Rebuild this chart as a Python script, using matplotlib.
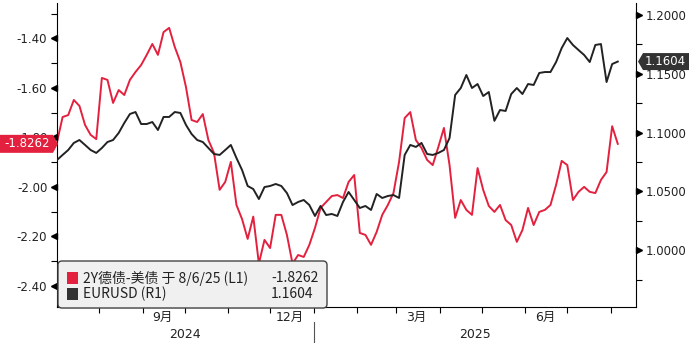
import numpy as np
import pandas as pd
import matplotlib
matplotlib.use("Agg")
import matplotlib.pyplot as plt
from matplotlib.patches import Polygon, Rectangle, FancyBboxPatch
from matplotlib.transforms import blended_transform_factory, ScaledTranslation, IdentityTransform

plt.rcParams['font.family'] = ['DejaVu Sans', 'Noto Sans CJK SC']

# data, sampled every 4 days from the picture
dates = pd.date_range('2024-07-02', periods=101, freq='4D')

spread = [
    -1.819, -1.718, -1.710, -1.649, -1.673, -1.750, -1.790, -1.807, -1.560, -1.568,
    -1.661, -1.609, -1.629, -1.568, -1.536, -1.508, -1.467, -1.423, -1.467, -1.375,
    -1.358, -1.435, -1.496, -1.597, -1.730, -1.738, -1.706, -1.811, -1.863, -2.012,
    -1.980, -1.899, -2.073, -2.130, -2.210, -2.120, -2.310, -2.214, -2.247, -2.113,
    -2.113, -2.194, -2.310, -2.275, -2.283, -2.234, -2.166, -2.085, -2.061, -2.037,
    -2.033, -2.045, -1.980, -1.952, -2.186, -2.194, -2.234, -2.182, -2.113, -2.073,
    -2.025, -1.899, -1.722, -1.698, -1.811, -1.843, -1.891, -1.912, -1.839, -1.762,
    -1.912, -2.125, -2.053, -2.093, -2.113, -1.924, -2.012, -2.077, -2.101, -2.073,
    -2.134, -2.154, -2.222, -2.174, -2.085, -2.154, -2.101, -2.093, -2.073, -1.992,
    -1.895, -1.912, -2.053, -2.020, -2.000, -2.020, -2.025, -1.972, -1.940, -1.755,
    -1.8262]

eurusd = [
    1.0767, 1.0810, 1.0852, 1.0912, 1.0937, 1.0895, 1.0852, 1.0827, 1.0869, 1.0920,
    1.0937, 1.0997, 1.1082, 1.1158, 1.1175, 1.1073, 1.1073, 1.1090, 1.1022, 1.1133,
    1.1133, 1.1175, 1.1167, 1.1065, 1.0988, 1.0937, 1.0920, 1.0869, 1.0818, 1.0810,
    1.0852, 1.0895, 1.0784, 1.0682, 1.0546, 1.0520, 1.0435, 1.0537, 1.0546, 1.0563,
    1.0546, 1.0486, 1.0384, 1.0410, 1.0427, 1.0384, 1.0291, 1.0376, 1.0299, 1.0308,
    1.0291, 1.0410, 1.0495, 1.0427, 1.0359, 1.0376, 1.0342, 1.0478, 1.0444, 1.0461,
    1.0469, 1.0444, 1.0810, 1.0895, 1.0878, 1.0912, 1.0818, 1.0810, 1.0827, 1.0852,
    1.0954, 1.1320, 1.1379, 1.1490, 1.1379, 1.1413, 1.1311, 1.1345, 1.1100, 1.1192,
    1.1184, 1.1328, 1.1379, 1.1328, 1.1413, 1.1405, 1.1507, 1.1515, 1.1515, 1.1600,
    1.1719, 1.1804, 1.1745, 1.1702, 1.1660, 1.1600, 1.1745, 1.1753, 1.1430, 1.1583,
    1.1604]

left_ticks = [-2.40, -2.20, -2.00, -1.80, -1.60, -1.40]
left_minor = [-2.30, -2.10, -1.90, -1.70, -1.50, -1.30]
right_ticks = [1.00, 1.05, 1.10, 1.15, 1.20]
right_minor = [0.975, 1.025, 1.075, 1.125, 1.175]
month_pos = ['2024-09-15', '2024-12-15', '2025-03-15', '2025-06-15']
month_labels = ['9月', '12月', '3月', '6月']

spread_name = '2Y德债-美债 于 8/6/25 (L1)'
fx_name = 'EURUSD (R1)'

RED = '#e3213f'
DARK = '#222222'

W, H = 689, 343
fig = plt.figure(figsize=(W / 100, H / 100), dpi=100)
ax = fig.add_axes([57 / W, 1 - 307 / H, (636 - 57) / W, (307 - 3) / H])
ax2 = ax.twinx()

ax.plot(dates, spread, color=RED, lw=1.4)
ax2.plot(dates, eurusd, color=DARK, lw=1.4)

ax.set_xlim(dates[0], pd.Timestamp('2025-08-19'))
ax.set_ylim(-2.485, -1.2575)
ax2.set_ylim(0.9517, 1.2102)

for s in ['top', 'right']:
    ax.spines[s].set_visible(False)
for s in ['top', 'left', 'bottom']:
    ax2.spines[s].set_visible(False)

# left axis
ax.set_yticks(left_ticks)
ax.set_yticklabels(['%.2f' % v for v in left_ticks])
ax.set_yticks(left_minor, minor=True)
ax.tick_params(axis='y', which='major', length=0, pad=7, labelsize=8.5, labelcolor='#222222')
ax.tick_params(axis='y', which='minor', length=4, width=0.8)
trl = blended_transform_factory(ax.transAxes, ax.transData) + ScaledTranslation(-2.3 / 72, 0, fig.dpi_scale_trans)
ax.plot(np.zeros(len(left_ticks)), left_ticks, ls='none', marker='<', ms=4.5,
        color='black', transform=trl, clip_on=False)

# right axis
ax2.set_yticks(right_ticks)
ax2.set_yticklabels(['%.4f' % v for v in right_ticks])
ax2.set_yticks(right_minor, minor=True)
ax2.tick_params(axis='y', which='major', length=0, pad=7, labelsize=8.5, labelcolor='#222222')
ax2.tick_params(axis='y', which='minor', length=4, width=0.8)
trr = blended_transform_factory(ax2.transAxes, ax2.transData) + ScaledTranslation(2.3 / 72, 0, fig.dpi_scale_trans)
ax2.plot(np.ones(len(right_ticks)), right_ticks, ls='none', marker='>', ms=4.5,
         color='black', transform=trr, clip_on=False)

# x axis: month ticks, quarterly labels, years below
month_starts = pd.date_range('2024-08-01', '2025-08-01', freq='MS')
ax.set_xticks(month_starts, minor=True)
ax.set_xticks(pd.to_datetime(month_pos))
ax.set_xticklabels(month_labels)
ax.tick_params(axis='x', which='major', length=0, pad=3, labelsize=9, labelcolor='#222222')
ax.tick_params(axis='x', which='minor', length=4, width=0.8)

xl = ax.get_xlim()
jan = pd.Timestamp('2025-01-01')
xt = blended_transform_factory(ax.transData, ax.transAxes)
import matplotlib.dates as mdates
jn = mdates.date2num(jan)
ax.text((xl[0] + jn) / 2, -0.092, '2024', transform=xt, ha='center', va='center', fontsize=9, color='#222222')
ax.text((jn + xl[1]) / 2, -0.092, '2025', transform=xt, ha='center', va='center', fontsize=9, color='#222222')
ax.axvline(jan, ymin=-0.12, ymax=-0.05, color='#555555', lw=0.8, clip_on=False)

# legend box (pixel coordinates)
idt = IdentityTransform()
def fy(y):
    return H - y

leg = FancyBboxPatch((58, fy(308)), 269, 47, boxstyle='round,pad=0,rounding_size=4',
                     fc='#f0f0f0', ec='#444444', lw=1, transform=idt, zorder=5)
fig.add_artist(leg)
fig.add_artist(Rectangle((67, fy(284)), 11, 12, fc=RED, ec='none', transform=idt, zorder=6))
fig.add_artist(Rectangle((67, fy(300)), 11, 12, fc='#333333', ec='none', transform=idt, zorder=6))
lf = ['Noto Sans CJK SC', 'DejaVu Sans']
fig.text(83, fy(278), spread_name, transform=idt, ha='left', va='center', fontsize=10,
         family=lf, color='#222222', zorder=7)
fig.text(319, fy(278), '%.4f' % spread[-1], transform=idt, ha='right', va='center', fontsize=10,
         family=lf, color='#222222', zorder=7)
fig.text(83, fy(294), fx_name, transform=idt, ha='left', va='center', fontsize=10,
         family=lf, color='#222222', zorder=7)
fig.text(313, fy(294), '%.4f' % eurusd[-1], transform=idt, ha='right', va='center', fontsize=10,
         family=lf, color='#222222', zorder=7)

# last value tags
cl = ax.transData.transform((0, spread[-1]))[1]
fig.add_artist(Polygon([(0, cl - 9), (53, cl - 9), (58, cl), (53, cl + 9), (0, cl + 9)],
                       closed=True, fc=RED, ec='none', transform=idt, zorder=5))
fig.text(27, cl, '%.4f' % spread[-1], transform=idt, ha='center', va='center',
         fontsize=8.5, color='white', zorder=7)

cr = ax2.transData.transform((0, eurusd[-1]))[1]
fig.add_artist(Polygon([(689, cr - 8.5), (643, cr - 8.5), (638, cr), (643, cr + 8.5), (689, cr + 8.5)],
                       closed=True, fc='#333333', ec='none', transform=idt, zorder=5))
fig.text(665, cr, '%.4f' % eurusd[-1], transform=idt, ha='center', va='center',
         fontsize=8.5, color='white', zorder=7)

fig.savefig('out.png', dpi=100)
